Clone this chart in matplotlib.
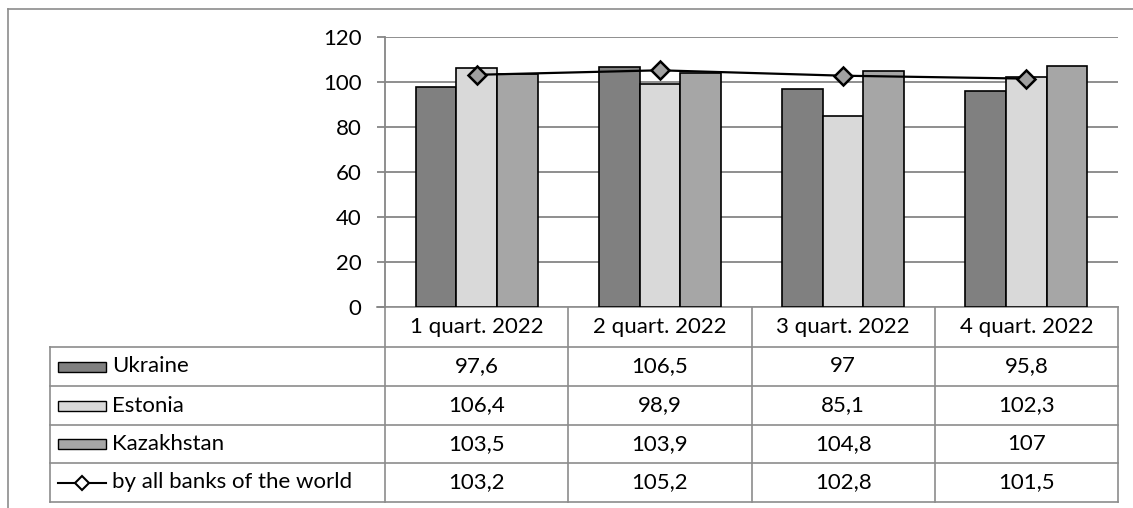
import matplotlib
matplotlib.use("Agg")
import matplotlib.pyplot as plt
import numpy as np
from matplotlib.patches import Rectangle

plt.rcParams['font.family'] = ['Lato', 'DejaVu Sans']

quarters = ["1 quart. 2022", "2 quart. 2022", "3 quart. 2022", "4 quart. 2022"]
ukraine = [97.6, 106.5, 97.0, 95.8]
estonia = [106.4, 98.9, 85.1, 102.3]
kazakhstan = [103.5, 103.9, 104.8, 107.0]
world = [103.2, 105.2, 102.8, 101.5]

ukraine_lbl = ["97,6", "106,5", "97", "95,8"]
estonia_lbl = ["106,4", "98,9", "85,1", "102,3"]
kazakhstan_lbl = ["103,5", "103,9", "104,8", "107"]
world_lbl = ["103,2", "105,2", "102,8", "101,5"]

series_names = ["Ukraine", "Estonia", "Kazakhstan", "by all banks of the world"]
bar_colors = ["#808080", "#d9d9d9", "#a6a6a6"]
marker_color = "#a0a0a0"
grid_color = "#868686"
frame_color = "#8c8c8c"
FS = 16

W, H = 1133, 508
fig = plt.figure(figsize=(W / 100, H / 100), dpi=100)

# plot area in pixel units
px_l, px_r, px_t, px_b = 385, 1118, 37, 307
ax = fig.add_axes([px_l / W, 1 - px_b / H, (px_r - px_l) / W, (px_b - px_t) / H])

n = len(quarters)
x = np.arange(n)
bw = 1 / 4.5
for k, (vals, col) in enumerate(zip([ukraine, estonia, kazakhstan], bar_colors)):
    ax.bar(x + (k - 1) * bw, vals, width=bw, color=col, edgecolor="black",
           linewidth=1.2, zorder=3)
ax.plot(x, world, color="black", lw=1.6, marker="D", markersize=9,
        markerfacecolor=marker_color, markeredgecolor="black",
        markeredgewidth=1.8, zorder=4)

ax.set_xlim(-0.5, n - 0.5)
ax.set_ylim(0, 120)
ax.set_yticks(np.arange(0, 121, 20))
ax.set_xticks([])
ax.yaxis.grid(True, color=grid_color, lw=1.3, zorder=0)
ax.set_axisbelow(True)
for s in ["top", "right", "bottom"]:
    ax.spines[s].set_visible(False)
ax.spines["left"].set_color(grid_color)
ax.spines["left"].set_linewidth(1.3)
ax.tick_params(axis="y", direction="out", length=6, width=1.3, color=grid_color,
               pad=11, labelsize=FS)

# overlay for the data table and outer frame
ov = fig.add_axes([0, 0, 1, 1], zorder=-1)
ov.set_xlim(0, W)
ov.set_ylim(H, 0)
ov.axis("off")
ov.patch.set_alpha(0)

# outer frame (left and top)
ov.plot([8, 8], [9, H], color=frame_color, lw=1.2)
ov.plot([8, W], [9, 9], color=frame_color, lw=1.2)

tab_l = 50
col_w = (px_r - px_l) / n
col_edges = [px_l + i * col_w for i in range(n + 1)]
row_edges = [px_b, 347, 386, 425, 463, 502]
lc = frame_color
lw = 1.2

# horizontal lines
ov.plot([px_l - 8, px_r], [row_edges[0]] * 2, color=lc, lw=lw)
for y in row_edges[1:]:
    ov.plot([tab_l, px_r], [y, y], color=lc, lw=lw)
# vertical lines
ov.plot([tab_l, tab_l], [row_edges[1], row_edges[-1]], color=lc, lw=lw)
for xe in col_edges:
    ov.plot([xe, xe], [row_edges[0], row_edges[-1]], color=lc, lw=lw)

# column headers
for i, q in enumerate(quarters):
    ov.text((col_edges[i] + col_edges[i + 1]) / 2, (row_edges[0] + row_edges[1]) / 2,
            q, ha="center", va="center", fontsize=FS)

rows = [ukraine_lbl, estonia_lbl, kazakhstan_lbl, world_lbl]
for r, (name, labels) in enumerate(zip(series_names, rows)):
    yc = (row_edges[r + 1] + row_edges[r + 2]) / 2
    if r < 3:
        ov.add_patch(Rectangle((58, yc - 5), 48, 10, facecolor=bar_colors[r],
                               edgecolor="black", lw=1.0))
    else:
        ov.plot([58, 106], [yc, yc], color="black", lw=1.5)
        ov.plot([82], [yc], marker="D", markersize=7, markerfacecolor="white",
                markeredgecolor="black", markeredgewidth=1.5)
    ov.text(112, yc, name, ha="left", va="center", fontsize=FS)
    for i, lab in enumerate(labels):
        ov.text((col_edges[i] + col_edges[i + 1]) / 2, yc, lab,
                ha="center", va="center", fontsize=FS)

fig.savefig("out.png", dpi=100)
